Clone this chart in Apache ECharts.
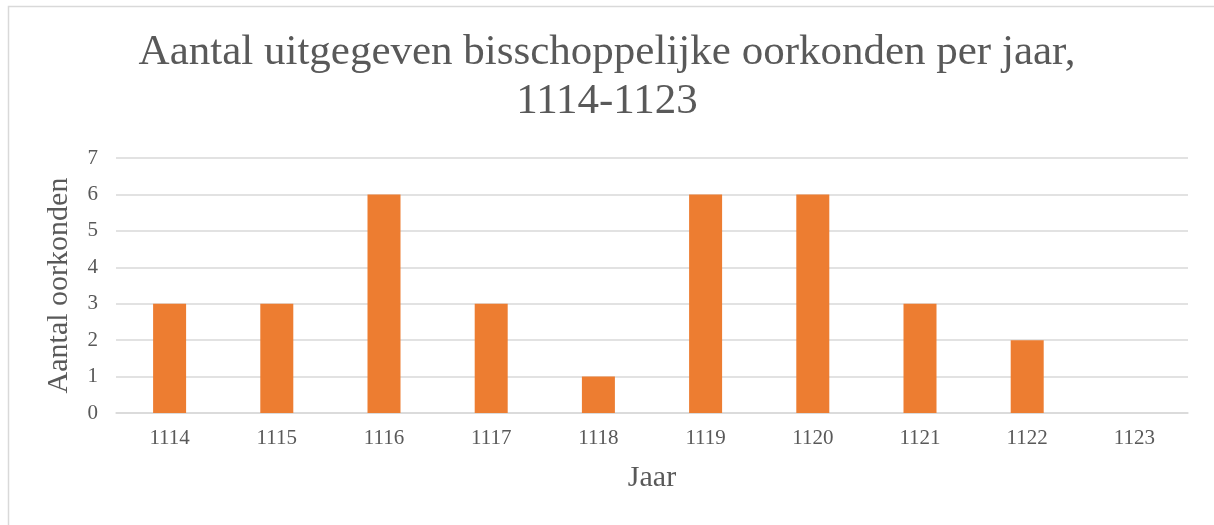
<!DOCTYPE html>
<html>
<head>
<meta charset="utf-8">
<script src="https://cdn.jsdelivr.net/npm/echarts@6/dist/echarts.min.js"></script>
<style>
html,body{margin:0;padding:0;background:#fff;}
#chart{width:1214px;height:525px;}
</style>
</head>
<body>
<div id="chart"></div>
<script>
const titleText = 'Aantal uitgegeven bisschoppelijke oorkonden per jaar,\n1114-1123';
const categories = ['1114','1115','1116','1117','1118','1119','1120','1121','1122','1123'];
const values = [3, 3, 6, 3, 1, 6, 6, 3, 2, 0];
const xName = 'Jaar';
const yName = 'Aantal oorkonden';

const serif = '"Liberation Serif", "Times New Roman", serif';
const chart = echarts.init(document.getElementById('chart'));
chart.setOption({
  backgroundColor: '#fff',
  animation: false,
  graphic: [{
    type: 'rect',
    shape: { x: 8.5, y: 6.5, width: 1300, height: 600 },
    style: { fill: 'none', stroke: '#D9D9D9', lineWidth: 1.5 },
    silent: true
  }],
  title: {
    text: titleText,
    left: 'center',
    top: 28,
    padding: [0, 0, 0, 16],
    textStyle: {
      fontFamily: serif,
      fontSize: 43,
      fontWeight: 'normal',
      color: '#595959',
      lineHeight: 49
    }
  },
  grid: { left: 116, right: 26, top: 158, bottom: 112, containLabel: false },
  xAxis: {
    type: 'category',
    data: categories,
    name: xName,
    nameLocation: 'middle',
    nameGap: 50,
    nameTextStyle: { fontFamily: serif, fontSize: 30, color: '#595959' },
    axisLine: { show: true, lineStyle: { color: '#D9D9D9', width: 1.5 } },
    axisTick: { show: false },
    axisLabel: { fontFamily: serif, fontSize: 21, color: '#595959', margin: 15 }
  },
  yAxis: {
    type: 'value',
    min: 0,
    max: 7,
    interval: 1,
    name: yName,
    nameLocation: 'middle',
    nameGap: 42,
    nameTextStyle: { fontFamily: serif, fontSize: 30, color: '#595959' },
    axisLine: { show: false },
    axisTick: { show: false },
    axisLabel: { fontFamily: serif, fontSize: 21, color: '#595959', margin: 18 },
    splitLine: { lineStyle: { color: '#D9D9D9', width: 1.5 } }
  },
  series: [{
    type: 'bar',
    data: values,
    barWidth: 33,
    itemStyle: { color: '#ED7D31' }
  }]
});
</script>
</body>
</html>
